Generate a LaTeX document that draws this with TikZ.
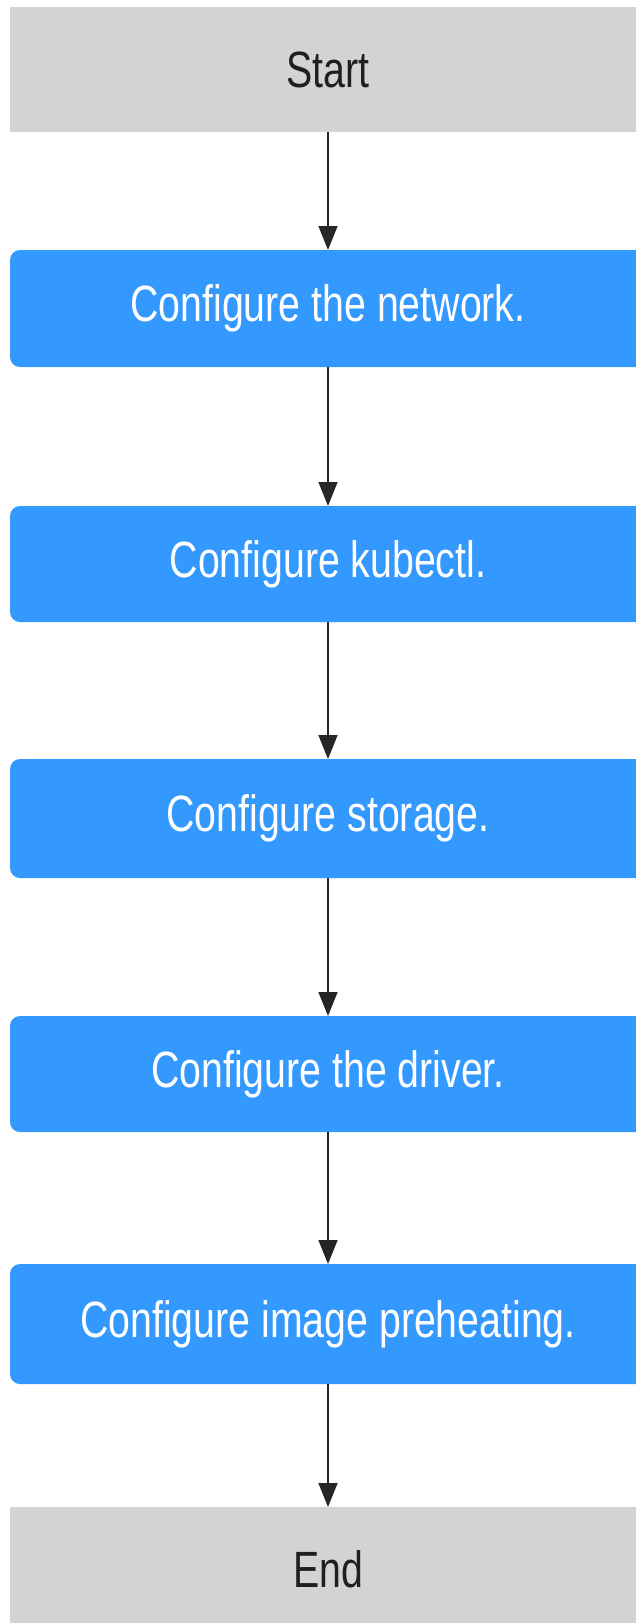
\documentclass[tikz,border=0pt]{standalone}
\usepackage{fontspec}
\setmainfont{Liberation Sans}
\newfontfamily\flowfont[FakeStretch=0.77]{Liberation Sans}
\usetikzlibrary{arrows.meta}
\definecolor{stepblue}{HTML}{3399FF}
\definecolor{termgray}{HTML}{D3D3D3}
\definecolor{linkgray}{HTML}{262626}
\begin{document}
\begin{tikzpicture}[x=1pt,y=-1pt,
  every node/.style={inner sep=0pt, outer sep=0pt, font=\flowfont\fontsize{51}{56}\selectfont},
  termbox/.style={fill=termgray, text=black!88, minimum width=636pt},
  stepbox/.style={fill=stepblue, text=white, rounded corners=10pt, minimum width=636pt},
  link/.style={draw=linkgray, line width=1.6pt, -{Triangle[length=24pt,width=19pt]}}]
\useasboundingbox (0,0) rectangle (636,1623);
\clip (0,0) rectangle (636,1623);
\node[termbox, minimum height=125pt] (start) at (328,69.5) {Start};
\node[stepbox, minimum height=117pt] (net) at (328,308.5) {Configure the network.};
\node[stepbox, minimum height=116pt] (kube) at (328,564) {Configure kubectl.};
\node[stepbox, minimum height=119pt] (stor) at (328,818.5) {Configure storage.};
\node[stepbox, minimum height=116pt] (drv) at (328,1074) {Configure the driver.};
\node[stepbox, minimum height=120pt] (img) at (328,1324) {Configure image preheating.};
\node[termbox, minimum height=125pt] (end) at (328,1569.5) {End};
\draw[link] (start.south) -- (net.north);
\draw[link] (net.south) -- (kube.north);
\draw[link] (kube.south) -- (stor.north);
\draw[link] (stor.south) -- (drv.north);
\draw[link] (drv.south) -- (img.north);
\draw[link] (img.south) -- (end.north);
\end{tikzpicture}
\end{document}
